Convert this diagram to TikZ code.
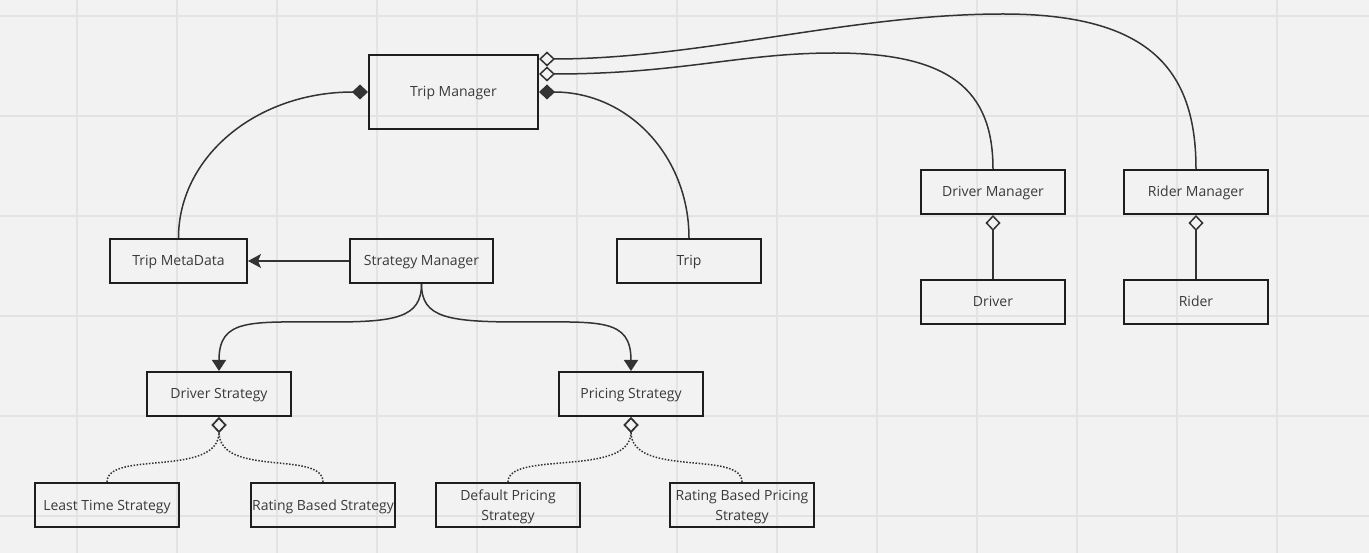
\documentclass[tikz,border=0pt]{standalone}
\usepackage{fontspec}
\setmainfont{Open Sans}
\usetikzlibrary{arrows.meta}
\definecolor{bg}{HTML}{F2F2F2}
\definecolor{gridc}{HTML}{E3E3E3}
\definecolor{boxc}{HTML}{1E1E1E}
\definecolor{linec}{HTML}{333333}
\definecolor{txtc}{HTML}{3A3A3A}
\begin{document}
\begin{tikzpicture}[x=1pt,y=-1pt,
  boxbase/.style={draw=boxc,line width=2pt,minimum width=144pt,minimum height=44pt,inner sep=0pt,
    text=txtc,font=\fontsize{14}{20}\selectfont,align=center},
  box/.style={boxbase,text height=10pt,text depth=0pt},
  conn/.style={draw=linec,line width=1.5pt},
  dotconn/.style={draw=linec,line width=1.5pt,dash pattern=on 1.5pt off 1.6pt},
  comp/.style={-{Diamond[length=16pt,width=15pt]}},
  aggr/.style={-{Diamond[open,length=16pt,width=15pt]}},
  assoc/.style={-{Triangle[length=11pt,width=14pt]}},
  dep/.style={-{Stealth[length=13pt,width=14pt,inset=3pt]}}]
\useasboundingbox[fill=bg] (0,0) rectangle (1369,553);
\foreach \x in {77,177,...,1277} \draw[gridc,line width=1.5pt] (\x,0) -- (\x,553);
\foreach \y in {16,116,...,516} \draw[gridc,line width=1.5pt] (0,\y) -- (1369,\y);

\node[box,minimum width=169pt,minimum height=74pt] (tm) at (453.5,92) {Trip Manager};
\node[box,minimum width=137pt] (tmd) at (178.5,261) {Trip MetaData};
\node[box,minimum width=143pt] (sm) at (421.5,261) {Strategy Manager};
\node[box] (trip) at (689,261) {Trip};
\node[box] (dm) at (993,192) {Driver Manager};
\node[box] (rm) at (1196,192) {Rider Manager};
\node[box] (drv) at (993,302) {Driver};
\node[box] (rdr) at (1196,302) {Rider};
\node[box] (ds) at (219,394) {Driver Strategy};
\node[box] (ps) at (631,394) {Pricing Strategy};
\node[box] (lts) at (107,505) {Least Time Strategy};
\node[box] (rbs) at (323,505) {Rating Based Strategy};
\node[boxbase] (dps) at (508,505) {\rule{0pt}{14pt}Default Pricing\\Strategy};
\node[boxbase] (rbps) at (742,505) {\rule{0pt}{14pt}Rating Based Pricing\\Strategy};

\coordinate (tmA) at ([yshift=33pt]tm.east);
\coordinate (tmB) at ([yshift=18pt]tm.east);

\draw[conn,comp] (tmd.north) .. controls (178.5,157) and (256,92) .. (tm.west);
\draw[conn,comp] (trip.north) .. controls (689,157) and (629,92) .. (tm.east);
\draw[conn,aggr] (dm.north) .. controls (993,90) and (950,53) .. (834,53)
  .. controls (740,53) and (680,74) .. (tmB);
\draw[conn,aggr] (rm.north) .. controls (1196,70) and (1150,14) .. (1003,14)
  .. controls (850,14) and (700,59) .. (tmA);
\draw[conn,aggr] (drv.north) -- (dm.south);
\draw[conn,aggr] (rdr.north) -- (rm.south);
\draw[conn,dep] (sm.west) -- (tmd.east);
\draw[conn,assoc] (sm.south) .. controls (421.5,318) and (395,322) .. (330,322)
  .. controls (250,322) and (219,318) .. (ds.north);
\draw[conn,assoc] (sm.south) .. controls (421.5,318) and (448,322) .. (522,322)
  .. controls (600,322) and (631,318) .. (ps.north);
\draw[dotconn,aggr] (lts.north) .. controls (107,450) and (219,478) .. (ds.south);
\draw[dotconn,aggr] (rbs.north) .. controls (323,450) and (219,478) .. (ds.south);
\draw[dotconn,aggr] (dps.north) .. controls (508,450) and (631,478) .. (ps.south);
\draw[dotconn,aggr] (rbps.north) .. controls (742,450) and (631,478) .. (ps.south);
\end{tikzpicture}
\end{document}
